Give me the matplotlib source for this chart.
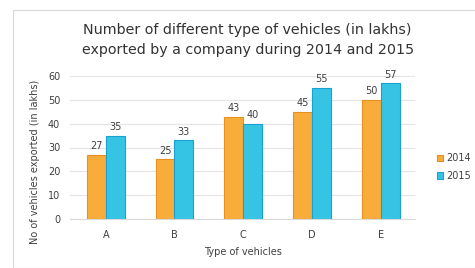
import numpy as np
import matplotlib.pyplot as plt
from matplotlib.patches import Rectangle

categories = ['A', 'B', 'C', 'D', 'E']
sales_2014 = [27, 25, 43, 45, 50]
sales_2015 = [35, 33, 40, 55, 57]
yticks = [0, 10, 20, 30, 40, 50, 60]

orange = '#F8AD3A'
orange_edge = '#E8901E'
blue = '#35C4E3'
blue_edge = '#1AA0D2'
text_col = '#404040'

fig = plt.figure(figsize=(4.75, 2.68), dpi=100)
# light card border behind everything
card = Rectangle((13 / 475, 0), 1, 1 - 10 / 268, transform=fig.transFigure,
                 facecolor='white', edgecolor='#d8d8d8', linewidth=0.8, zorder=-10)
fig.patches.append(card)

ax = fig.add_axes([70 / 475, 1 - 219 / 268, 345 / 475, 143 / 268])
ax.patch.set_alpha(0)
x = np.arange(len(categories))
w = 0.275

b1 = ax.bar(x - w / 2, sales_2014, w, color=orange, edgecolor=orange_edge, linewidth=0.8, label='2014')
b2 = ax.bar(x + w / 2, sales_2015, w, color=blue, edgecolor=blue_edge, linewidth=0.8, label='2015')

for bars in (b1, b2):
    for b in bars:
        ax.text(b.get_x() + b.get_width() / 2, b.get_height() + 1.5, f'{b.get_height():.0f}',
                ha='center', va='bottom', fontsize=7, color=text_col)

ax.set_xlim(-0.52, 4.5)
ax.set_ylim(0, 60)
ax.set_yticks(yticks)
ax.set_xticks(x)
ax.set_xticklabels(categories)
ax.tick_params(axis='both', length=0, labelsize=7, colors=text_col)
ax.tick_params(axis='y', pad=7)
ax.tick_params(axis='x', pad=8)
ax.yaxis.grid(True, color='#e4e4e4', linewidth=0.8)
ax.set_axisbelow(True)
for s in ['top', 'right', 'left']:
    ax.spines[s].set_visible(False)
ax.spines['bottom'].set_color('#d9d9d9')

ax.set_xlabel('Type of vehicles', fontsize=7, color=text_col, labelpad=5)
ax.set_ylabel('No of vehicles exported (in lakhs)', fontsize=7, color=text_col)
ax.yaxis.set_label_coords(-0.087, 0.4)

fig.text(247 / 475, 1 - 30 / 268, 'Number of different type of vehicles (in lakhs)',
         ha='center', va='center', fontsize=10.3, color='#333333')
fig.text(248 / 475, 1 - 50 / 268, 'exported by a company during 2014 and 2015',
         ha='center', va='center', fontsize=10.3, color='#333333')

fig.legend(handles=[b1, b2], labels=['2014', '2015'], loc='center left',
           bbox_to_anchor=(428 / 475, 1 - 167 / 268), frameon=False, fontsize=7,
           handlelength=0.6, handleheight=0.6, handletextpad=0.4, labelspacing=0.8,
           labelcolor=text_col)

fig.savefig('out.png', dpi=100)
